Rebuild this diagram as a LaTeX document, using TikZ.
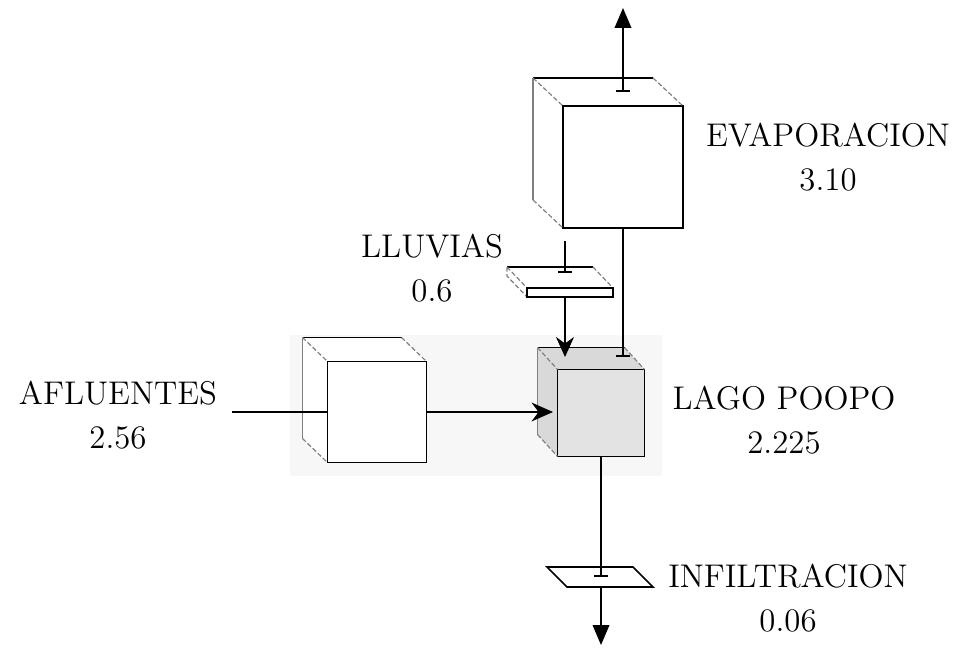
\documentclass[tikz,border=0pt]{standalone}
\usepackage{tikz}
\usetikzlibrary{arrows.meta,calc,backgrounds}
\newcommand\labelfont{\fontsize{14}{19}\selectfont}
\tikzset{
  cube-face/.style={draw,line width=0.7pt,fill=white,inner sep=0pt,outer sep=0pt},
  cube-lake/.style={cube-face,fill=gray!22},
  cube-edge/.style={line width=0.6pt},
  cube-hidden/.style={gray,line width=0.5pt},
  cube-diag/.style={gray,line width=0.5pt,dash pattern=on 2pt off 1pt},
  plate-edge/.style={line width=0.7pt},
  scan-bg/.style={fill=gray!6},
  lbl/.style={align=center,font=\labelfont},
  flow/.style={line width=0.7pt},
  flow-out/.style={flow,{Bar[width=2mm]}-{Triangle[length=3mm,width=2.5mm]}},
  flow-mark/.style={flow,-{Bar[width=2mm]}},
  flow-main/.style={line width=1.2pt},
}
% sides of a cube seen from the upper left
\newcommand\cubesides[4]{%
  \begin{scope}[on background layer]
    \fill[#4] (#1.north west) -- ++(#2,#3) coordinate (#1-b1)
      -- ($(#1.north east)+(#2,#3)$) coordinate (#1-b2) -- (#1.north east) -- cycle;
    \fill[#4] (#1.north west) -- (#1-b1)
      -- ($(#1.south west)+(#2,#3)$) coordinate (#1-b3) -- (#1.south west) -- cycle;
  \end{scope}
  \draw[cube-edge] (#1-b1) -- (#1-b2);
  \draw[cube-hidden] (#1-b1) -- (#1-b3);
  \draw[cube-diag] (#1-b1) -- (#1.north west) (#1-b2) -- (#1.north east)
    (#1-b3) -- (#1.south west);
}

\begin{document}
\begin{tikzpicture}[x=0.15mm,y=-0.15mm]
  \useasboundingbox (0,0) rectangle (960,647);
  \begin{scope}[on background layer]
    \fill[scan-bg] (290,335) rectangle (662,476);
  \end{scope}

  \node[cube-face,minimum width=18mm,minimum height=18.3mm] (evap) at (623,167) {};
  \node[cube-face,minimum width=14.85mm,minimum height=15.15mm] (aflu) at (377,412) {};
  \node[cube-lake,minimum width=13.05mm,minimum height=13.05mm] (lago) at (601,413) {};
  \cubesides{evap}{-30}{-28}{white}
  \cubesides{aflu}{-25}{-24}{white}
  \cubesides{lago}{-20}{-22}{gray!30}

  % plate of the rain
  \coordinate (ll-a) at (507,267);
  \coordinate (ll-b) at (593,267);
  \coordinate (ll-c) at (613,288);
  \coordinate (ll-d) at (527,288);
  \fill[white] (ll-a) -- (ll-b) -- (ll-c) -- (613,297) -- (527,297) -- (507,276) -- cycle;
  \draw[plate-edge] (ll-a) -- (ll-b);
  \draw[cube-diag] (ll-b) -- (ll-c) (ll-a) -- (ll-d) (ll-a) -- (507,276) -- (527,297);
  \draw[plate-edge] (ll-d) rectangle (613,297);
  % plate of the infiltration
  \draw[plate-edge,fill=white] (547,567) -- (633,567) -- (653,587) -- (567,587) -- cycle;

  \node[lbl] (evap-lbl) at (828,157) {EVAPORACION\\3.10};
  \node[lbl] (ll-lbl) at (432,268) {LLUVIAS\\0.6};
  \node[lbl] (afl-lbl) at (118,415) {AFLUENTES\\2.56};
  \node[lbl] (lago-lbl) at (784,420) {LAGO POOPO\\2.225};
  \node[lbl] (inf-lbl) at (788,598) {INFILTRACION\\0.06};

  \coordinate (evap-top) at (623,92);
  \coordinate (evap-out) at (623,8);
  \coordinate (lago-in-e) at (623,357);
  \coordinate (ll-top) at (565,241);
  \coordinate (ll-mark) at (565,273);
  \coordinate (ll-bot) at (565,297);
  \coordinate (lago-in-l) at (565,357);
  \coordinate (afl-start) at (232,412);
  \coordinate (lago-in-a) at (553,412);
  \coordinate (inf-mark) at (601,577);
  \coordinate (inf-bot) at (601,587);
  \coordinate (inf-out) at (601,645);

  \draw[flow-out] (evap-top) -- (evap-out);
  \draw[flow-mark] (evap.south) -- (lago-in-e);
  \draw[flow-mark] (ll-top) -- (ll-mark);
  \draw[flow,-{Stealth[length=3mm,width=2.7mm]}] (ll-bot) -- (lago-in-l);
  \draw[flow-main] (afl-start) -- (aflu.west);
  \draw[flow-main,-{Stealth[length=3.2mm,width=2.8mm]}] (aflu.east) -- (lago-in-a);
  \draw[flow-mark] (lago.south) -- (inf-mark);
  \draw[flow,-{Triangle[length=3mm,width=2.5mm]}] (inf-bot) -- (inf-out);
\end{tikzpicture}
\end{document}
